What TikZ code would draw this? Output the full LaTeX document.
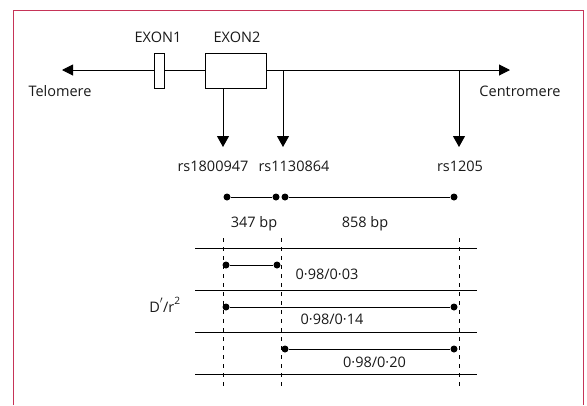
\documentclass[tikz,border=0pt]{standalone}
\usepackage{fontspec}
\setmainfont{Open Sans}
\usetikzlibrary{arrows.meta}
\definecolor{framered}{RGB}{198,52,88}
\definecolor{inkgray}{RGB}{25,25,25}

\tikzset{
  lbl/.style={font=\fontsize{14.5}{16}\selectfont, text=inkgray, inner sep=0pt},
  gene/.style={draw, line width=1pt, fill=white, inner sep=0pt},
  snp/.style={-{Triangle[length=11pt,width=12pt]}, line width=1pt},
  dot/.style={circle, fill, inner sep=0pt, minimum size=7pt},
  guide/.style={dash pattern=on 4pt off 5pt, line width=0.9pt},
  rowline/.style={line width=0.9pt},
}

\begin{document}
\begin{tikzpicture}[x=1pt, y=-1pt]
  \useasboundingbox (0,0) rectangle (587,405);

  %% Frame (open at the bottom)
  \draw[framered, line width=1pt] (13,405) -- (13,10) -- (583,10) -- (583,405);

  %% Gene axis with exons
  \coordinate (tel) at (62,70);
  \coordinate (cen) at (510,70);
  \draw[{Triangle[length=11pt,width=11pt]}-{Triangle[length=11pt,width=11pt]}, line width=1pt]
    (tel) -- (cen);
  \node[gene, minimum width=10pt, minimum height=35pt] (exon1) at (159,70.5) {};
  \node[gene, minimum width=61pt, minimum height=35pt] (exon2) at (235.5,70.5) {};
  \node[lbl] (exon1lbl) at (158,37) {EXON1};
  \node[lbl] (exon2lbl) at (237,37) {EXON2};
  \node[lbl] (telo) at (60,91) {Telomere};
  \node[lbl] (centro) at (520,91) {Centromere};

  % SNP markers
  \coordinate (s1) at (223,147);
  \coordinate (s2) at (283,147);
  \coordinate (s3) at (459,147);
  \draw[snp] (exon2.south -| s1) -- (s1);
  \draw[snp] (s2 |- tel) -- (s2);
  \draw[snp] (s3 |- tel) -- (s3);
  \node[lbl] (rs1) at (213,166) {rs1800947};
  \node[lbl] (rs2) at (294,166) {rs1130864};
  \node[lbl] (rs3) at (460,166) {rs1205};

  %% Distances between SNPs
  \node[dot] (d1) at (227,197) {};
  \node[dot] (d2) at (276,197) {};
  \node[dot] (d3) at (285,197) {};
  \node[dot] (d4) at (454,197) {};
  \draw[line width=0.9pt] (d1) -- (d2);
  \draw[line width=0.9pt] (d3) -- (d4);
  \node[lbl] (bp1) at (254,224) {347 bp};
  \node[lbl] (bp2) at (365,224) {858 bp};

  %% Linkage table
  \foreach \y in {248,290,332,374}
    \draw[rowline] (195,\y) -- (477,\y);
  \foreach \x in {223,281,459}
    \draw[guide] (\x,238) -- (\x,390);

  % pairs
  \node[dot] (p1a) at (226,265) {};
  \node[dot] (p1b) at (277,265) {};
  \draw[line width=0.9pt] (p1a) -- (p1b);
  \node[lbl] (ld1) at (327,274) {0·98/0·03};

  \node[dot] (p2a) at (226,307) {};
  \node[dot] (p2b) at (454,307) {};
  \draw[line width=0.9pt] (p2a) -- (p2b);
  \node[lbl] (ld2) at (332,319) {0·98/0·14};

  \node[dot] (p3a) at (285,349) {};
  \node[dot] (p3b) at (454,349) {};
  \draw[line width=0.9pt] (p3a) -- (p3b);
  \node[lbl] (ld3) at (374.5,362) {0·98/0·20};

  \node[lbl] (dprime) at (165,305) {D\raisebox{0.5ex}{$'$}/r\raisebox{0.3ex}{\textsuperscript{2}}};
\end{tikzpicture}
\end{document}
